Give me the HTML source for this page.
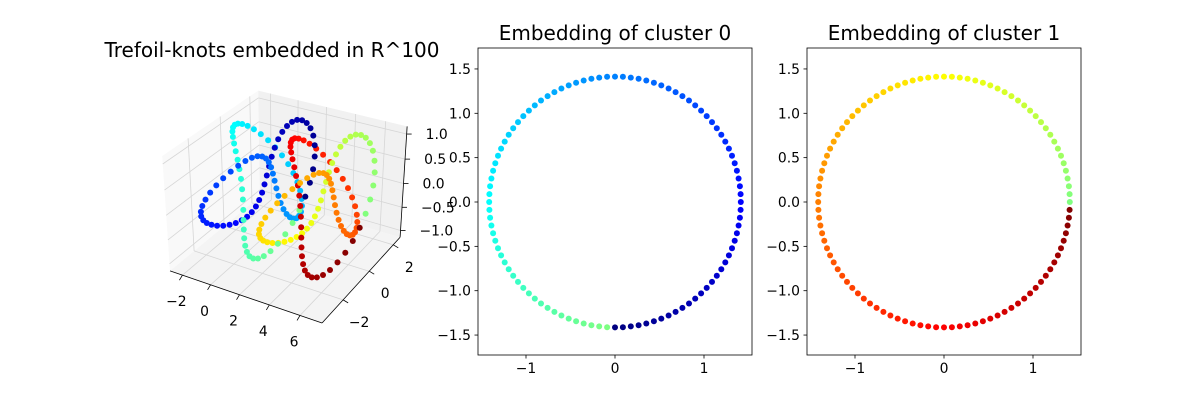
<!DOCTYPE html>
<html><head><meta charset="utf-8"><style>
html,body{margin:0;padding:0;background:#fff;}
svg{display:block;font-family:"DejaVu Sans","Liberation Sans",sans-serif;}
</style></head><body>
<svg id="fig" width="1200" height="400" viewBox="0 0 1200 400">
<rect width="1200" height="400" fill="#fff"/>
<g id="p3d"></g>
<g id="c0"></g>
<g id="c1"></g>
</svg>
<script>
// ---- data ----
const nPerKnot = 100;
const knotOffsetsX = [0, 4];
const knotOffsetsY = [0, 0];
const xTicks3 = [-2, 0, 2, 4, 6];
const yTicks3 = [-2, 0, 2];
const zTicks3 = [-1, -0.5, 0, 0.5, 1];
const zTickLabels3 = ["\u22121.0", "\u22120.5", "0.0", "0.5", "1.0"];
const xLim3 = [-2.9, 7.4];
const yLim3 = [-3.5, 2.6];
const zLim3 = [-1.15, 1.15];
const clusterRadius = [1.414, 1.414];
const clusterStartDeg = [-90, 0];
const clusterColorStart = [0, 0.5];
const yTicks2 = [1.5, 1.0, 0.5, 0.0, -0.5, -1.0, -1.5];
const yTickLabels2 = ["1.5", "1.0", "0.5", "0.0", "\u22120.5", "\u22121.0", "\u22121.5"];
const xTicks2 = [-1, 0, 1];
const xTickLabels2 = ["\u22121", "0", "1"];

const NS = "http://www.w3.org/2000/svg";
function mk(tag, attrs, parent) {
  const e = document.createElementNS(NS, tag);
  for (const k in attrs) e.setAttribute(k, attrs[k]);
  parent.appendChild(e);
  return e;
}
function jet(t) {
  const c = v => Math.max(0, Math.min(1, v));
  const r = c(1.5 - Math.abs(4 * t - 3)), g = c(1.5 - Math.abs(4 * t - 2)), b = c(1.5 - Math.abs(4 * t - 1));
  return `rgb(${Math.round(r*255)},${Math.round(g*255)},${Math.round(b*255)})`;
}

// ---- 3D projection ----
const D = 6, S = 173.6, CX = 288, CY = 199;
const U = [0.866, 0.5, 0], V = [-0.25, 0.433, 0.866], W = [0.433, -0.75, 0.5];
function norm3(x, y, z) {
  return [(x - xLim3[0]) / (xLim3[1] - xLim3[0]) - 0.5,
          (y - yLim3[0]) / (yLim3[1] - yLim3[0]) - 0.5,
          ((z - zLim3[0]) / (zLim3[1] - zLim3[0]) - 0.5) * 0.75];
}
function proj(x, y, z) {
  const p = norm3(x, y, z);
  const dot = a => p[0]*a[0] + p[1]*a[1] + p[2]*a[2];
  const f = D / (D - dot(W));
  return [CX + S * dot(U) * f, CY - S * dot(V) * f, dot(W)];
}
const g3 = document.getElementById('p3d');
function poly(pts, fill, name) {
  const el = mk('polygon', {points: pts.map(p => p[0].toFixed(1) + ',' + p[1].toFixed(1)).join(' '), fill: fill, stroke: 'none'}, g3);
  
  
}
function line(a, b, color, w, parent, name) {
  const el = mk('line', {x1: a[0], y1: a[1], x2: b[0], y2: b[1], stroke: color, 'stroke-width': w}, parent);
  
  
  return el;
}
const [x0, x1] = xLim3, [y0, y1] = yLim3, [z0, z1] = zLim3;
poly([proj(x0,y0,z0), proj(x1,y0,z0), proj(x1,y1,z0), proj(x0,y1,z0)], '#f4f4f4', 'floor-pane');
poly([proj(x0,y0,z0), proj(x0,y1,z0), proj(x0,y1,z1), proj(x0,y0,z1)], '#f9f9f9', 'left-pane');
poly([proj(x0,y1,z0), proj(x1,y1,z0), proj(x1,y1,z1), proj(x0,y1,z1)], '#f1f1f1', 'back-pane');
const gc = '#d6d6d6';
xTicks3.forEach(x => {
  line(proj(x,y0,z0), proj(x,y1,z0), gc, 0.8, g3, 'grid-x-floor');
  line(proj(x,y1,z0), proj(x,y1,z1), gc, 0.8, g3, 'grid-x-back');
});
yTicks3.forEach(y => {
  line(proj(x0,y,z0), proj(x1,y,z0), gc, 0.8, g3, 'grid-y-floor');
  line(proj(x0,y,z0), proj(x0,y,z1), gc, 0.8, g3, 'grid-y-left');
});
zTicks3.forEach(z => {
  line(proj(x0,y0,z), proj(x0,y1,z), gc, 0.8, g3, 'grid-z-left');
  line(proj(x0,y1,z), proj(x1,y1,z), gc, 0.8, g3, 'grid-z-back');
});
line(proj(x0,y0,z0), proj(x1,y0,z0), '#000', 0.8, g3, 'x-axis-line');
line(proj(x1,y0,z0), proj(x1,y1,z0), '#000', 0.8, g3, 'y-axis-line');
line(proj(x1,y1,z0), proj(x1,y1,z1), '#000', 0.8, g3, 'z-axis-line');
function txt(parent, x, y, s, size, anchor, name) {
  const t = mk('text', {x: x, y: y, 'font-size': size, 'text-anchor': anchor, fill: '#000'}, parent);
  t.textContent = s;
  
  
  return t;
}
xTicks3.forEach((x, i) => {
  const a = proj(x, y0, z0);
  line([a[0], a[1]], [a[0]-3, a[1]+5], '#000', 0.8, g3, 'x-tick');
  txt(g3, a[0]-6, a[1]+31, x < 0 ? '\u2212' + Math.abs(x) : String(x), 13.9, 'middle', 'x-tick-label');
});
yTicks3.forEach(y => {
  const a = proj(x1, y, z0);
  line([a[0], a[1]], [a[0]+5, a[1]+3], '#000', 0.8, g3, 'y-tick');
  txt(g3, a[0]+16, a[1]+27, y < 0 ? '\u2212' + Math.abs(y) : String(y), 13.9, 'middle', 'y-tick-label');
});
zTicks3.forEach((z, i) => {
  const a = proj(x1, y1, z);
  line([a[0], a[1]], [a[0]+5, a[1]], '#000', 0.8, g3, 'z-tick');
  txt(g3, a[0]+19, a[1]+5, zTickLabels3[i], 13.9, 'start', 'z-tick-label');
});
// knot points
const pts = [];
knotOffsetsX.forEach((ox, k) => {
  for (let j = 0; j < nPerKnot; j++) {
    const t = 2 * Math.PI * j / nPerKnot;
    const r = 2 + Math.cos(3 * t);
    const x = r * Math.cos(2 * t) + ox;
    const y = r * Math.sin(2 * t) + knotOffsetsY[k];
    const z = Math.sin(3 * t);
    const p = proj(x, y, z);
    pts.push({p: p, c: jet((k * nPerKnot + j) / (2 * nPerKnot - 1))});
  }
});
pts.sort((a, b) => a.p[2] - b.p[2]);
pts.forEach(o => {
  const el = mk('circle', {cx: o.p[0].toFixed(1), cy: o.p[1].toFixed(1), r: 3, fill: o.c}, g3);
  
  
});
txt(g3, 272, 57, 'Trefoil-knots embedded in R^100', 20, 'middle', 'knot-plot-title');

// ---- 2D cluster plots ----
function cluster(gid, k, left, cx0, title) {
  const g = document.getElementById(gid);
  const top = 48, bottom = 355, right = left + 274;
  const sx = v => cx0 + v * 89;
  const sy = v => 202 - v * 88.7;
  const r = mk('rect', {x: left, y: top, width: right - left, height: bottom - top, fill: '#fff', stroke: '#000', 'stroke-width': 0.8}, g);
  
  
  yTicks2.forEach((v, i) => {
    line([left, sy(v)], [left - 3.5, sy(v)], '#000', 0.8, g, 'y-tick');
    txt(g, left - 7, sy(v) + 5, yTickLabels2[i], 13.9, 'end', 'y-tick-label');
  });
  xTicks2.forEach((v, i) => {
    line([sx(v), bottom], [sx(v), bottom + 3.5], '#000', 0.8, g, 'x-tick');
    txt(g, sx(v), bottom + 18, xTickLabels2[i], 13.9, 'middle', 'x-tick-label');
  });
  for (let j = 0; j < nPerKnot; j++) {
    const a = (clusterStartDeg[k] + 360 * j / nPerKnot) * Math.PI / 180;
    const R = clusterRadius[k];
    const el = mk('circle', {cx: sx(R * Math.cos(a)).toFixed(1), cy: sy(R * Math.sin(a)).toFixed(1), r: 3, fill: jet(clusterColorStart[k] + j / (2 * nPerKnot - 1))}, g);
    
    
  }
  txt(g, (left + right) / 2, 40, title, 20, 'middle', 'cluster-title');
}
cluster('c0', 0, 478, 615, 'Embedding of cluster 0');
cluster('c1', 1, 807, 944, 'Embedding of cluster 1');
</script>
</body></html>
